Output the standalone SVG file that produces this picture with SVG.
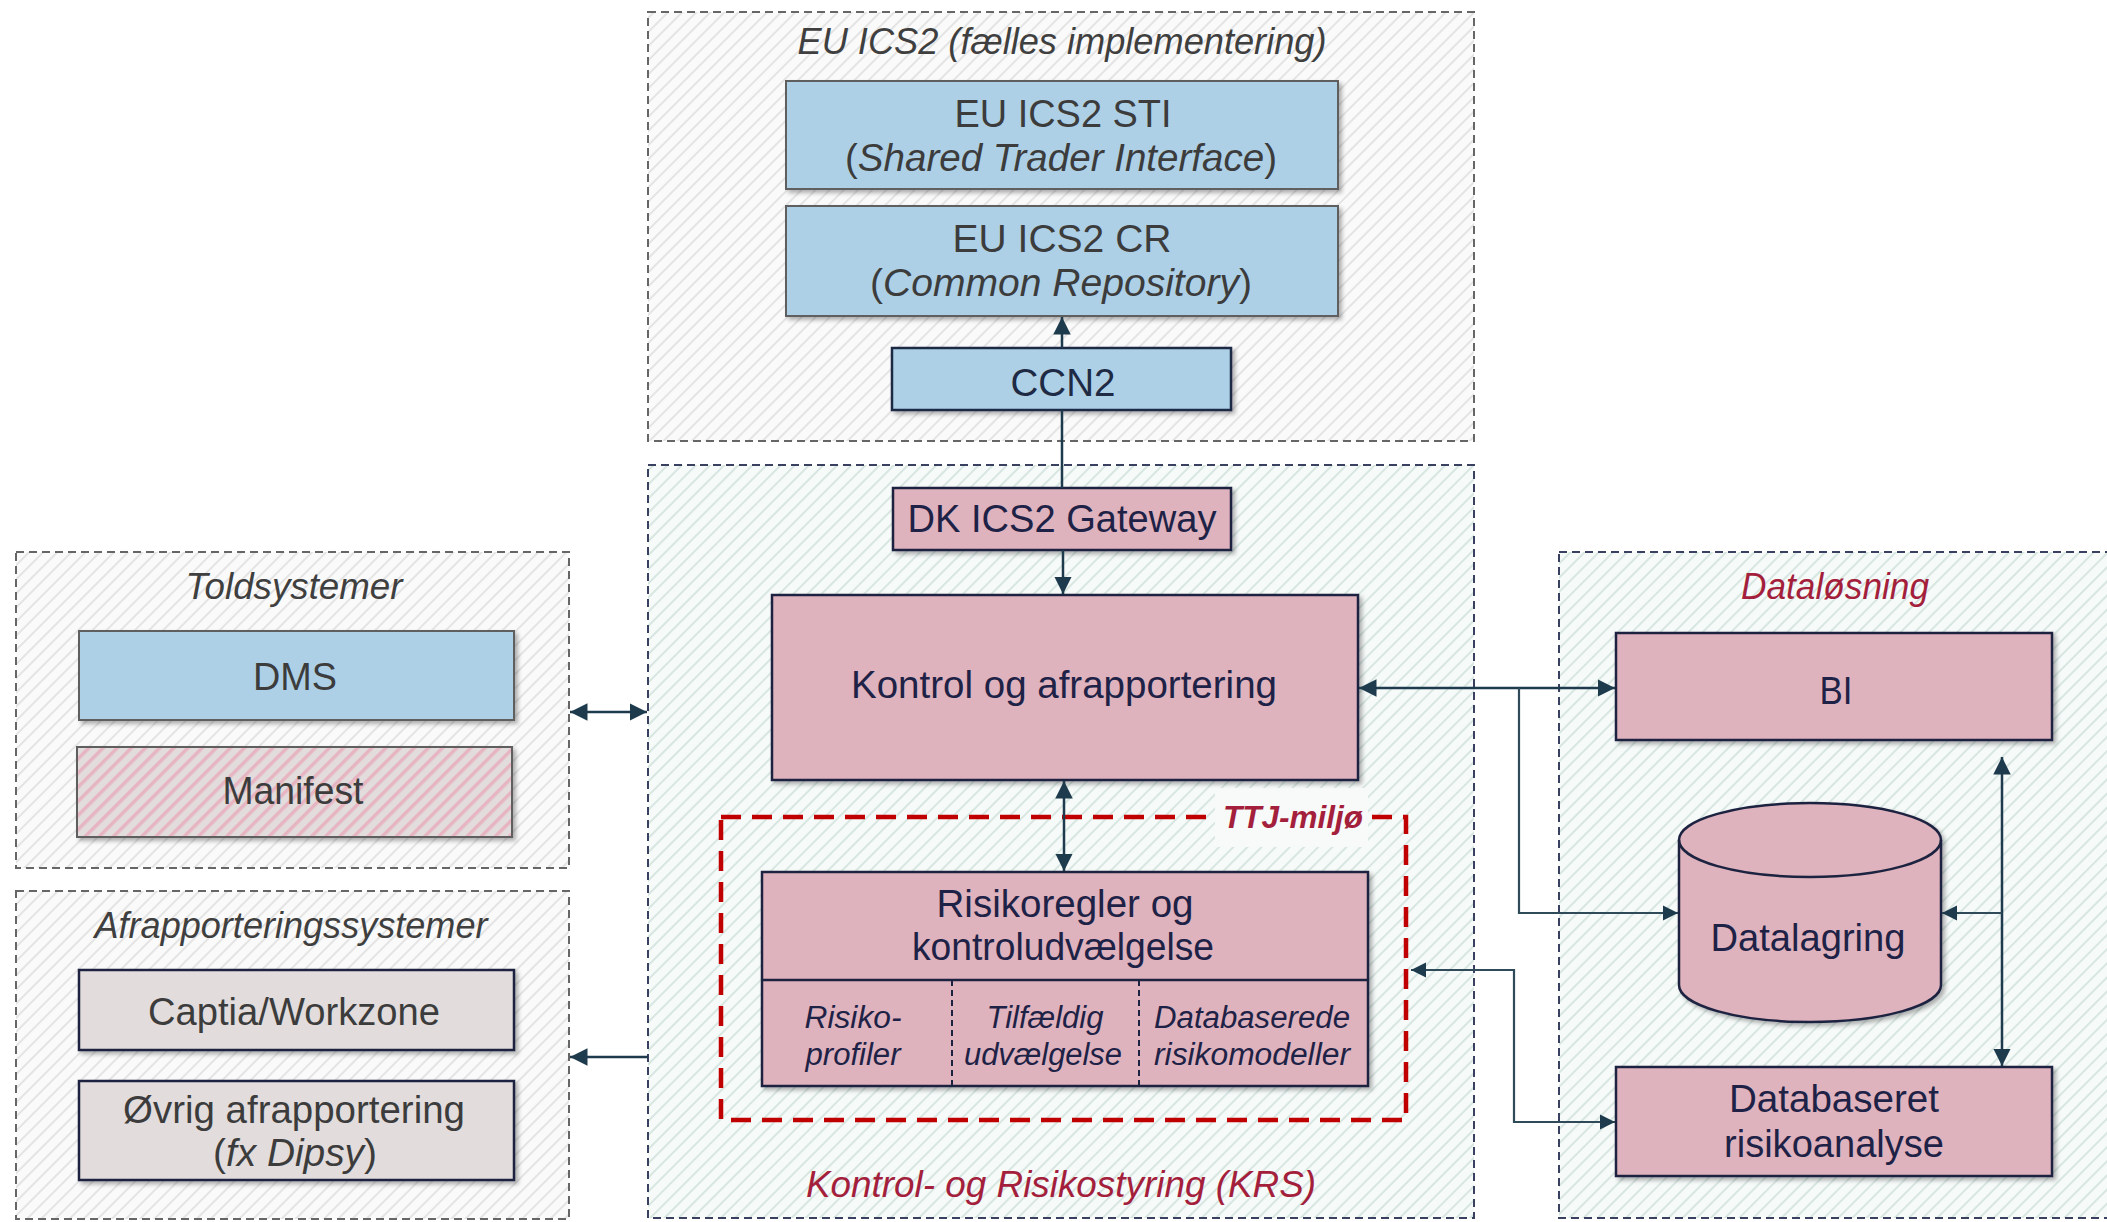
<svg xmlns="http://www.w3.org/2000/svg" width="2107" height="1222" viewBox="0 0 2107 1222">
<defs>
  <pattern id="hGray" width="10" height="10" patternUnits="userSpaceOnUse" patternTransform="rotate(45)">
    <rect width="10" height="10" fill="#fafafa"/>
    <line x1="1" y1="0" x2="1" y2="10" stroke="#e4e4e4" stroke-width="2"/>
  </pattern>
  <pattern id="hMint" width="10" height="10" patternUnits="userSpaceOnUse" patternTransform="rotate(45)">
    <rect width="10" height="10" fill="#f6faf9"/>
    <line x1="1" y1="0" x2="1" y2="10" stroke="#d8e6e2" stroke-width="2"/>
  </pattern>
  <pattern id="hPink" width="10" height="10" patternUnits="userSpaceOnUse" patternTransform="rotate(45)">
    <rect width="10" height="10" fill="#e2dcdc"/>
    <rect x="0" y="0" width="3.5" height="10" fill="#e7b5c1"/>
  </pattern>
  <filter id="sh" x="-5%" y="-5%" width="112%" height="120%">
    <feDropShadow dx="3" dy="3" stdDeviation="2" flood-color="#000" flood-opacity="0.3"/>
  </filter>
  <marker id="ah" viewBox="0 0 10 10" refX="10" refY="5" markerWidth="7" markerHeight="7" markerUnits="strokeWidth" orient="auto-start-reverse">
    <path d="M0,0 L10,5 L0,10 Z" fill="#1d3b4c"/>
  </marker>
  <style>
    .cont{stroke-width:2;stroke-dasharray:8 5}
    .gcont{fill:url(#hGray);stroke:#666}
    .mcont{fill:url(#hMint);stroke:#3a4060}
    .blue{fill:#add0e7;stroke:#5f5f5f;stroke-width:2;filter:url(#sh)}
    .pink{fill:#dfb3bd;stroke:#1c2340;stroke-width:2.5;filter:url(#sh)}
    .grey{fill:#e2dcdc;stroke:#1c2340;stroke-width:2.5;filter:url(#sh)}
    text{font-family:"Liberation Sans",Arial,sans-serif;text-anchor:middle}
    .t{font-size:38px;fill:#3c3c3c}
    .tn{font-size:38px;fill:#1e2246}
    .title{font-size:36px;font-style:italic;fill:#3f3f3f}
    .rtitle{font-size:36px;font-style:italic;fill:#a31f3c}
    .sm{font-size:31px;font-style:italic;fill:#1e2246}
    .i{font-style:italic}
    .con{fill:none;stroke:#1d3b4c;stroke-width:2.5}
    .con2{fill:none;stroke:#2f4a58;stroke-width:2.2}
  </style>
</defs>
<rect width="2107" height="1222" fill="#ffffff"/>

<g id="eu-ics2">
  <rect class="cont gcont" x="648" y="12" width="826" height="429"/>
  <text class="title" x="1062" y="54" textLength="529" lengthAdjust="spacingAndGlyphs">EU ICS2 (fælles implementering)</text>
</g>
<g id="krs">
  <rect class="cont mcont" x="648" y="465" width="826" height="753"/>
  <text class="rtitle" x="1061" y="1197" textLength="510" lengthAdjust="spacingAndGlyphs">Kontrol- og Risikostyring (KRS)</text>
</g>
<g id="toldsystemer">
  <rect class="cont gcont" x="16" y="552" width="553" height="316"/>
  <text class="title" x="294" y="599" textLength="217" lengthAdjust="spacingAndGlyphs">Toldsystemer</text>
</g>
<g id="afrapporteringssystemer">
  <rect class="cont gcont" x="16" y="891" width="553" height="328"/>
  <text class="title" x="291" y="938" textLength="393" lengthAdjust="spacingAndGlyphs">Afrapporteringssystemer</text>
</g>
<g id="dataloesning">
  <rect class="cont mcont" x="1559" y="552" width="600" height="666"/>
  <text class="rtitle" x="1835" y="599" textLength="188" lengthAdjust="spacingAndGlyphs">Dataløsning</text>
</g>

<g id="ttj">
  <rect x="721" y="817" width="685" height="303" fill="none" stroke="#c00000" stroke-width="4.5" stroke-dasharray="20 11"/>
  <rect x="1215" y="788" width="153" height="59" fill="#f8f9f9"/>
  <text x="1293" y="828" font-size="32" font-weight="bold" font-style="italic" fill="#a31f3c" textLength="140" lengthAdjust="spacingAndGlyphs">TTJ-miljø</text>
</g>

<g id="sti">
  <rect class="blue" x="786" y="81" width="552" height="108"/>
  <text class="t" x="1063" y="127" textLength="217" lengthAdjust="spacingAndGlyphs">EU ICS2 STI</text>
  <text class="t" x="1061" y="171" textLength="432" lengthAdjust="spacingAndGlyphs">(<tspan class="i">Shared Trader Interface</tspan>)</text>
</g>
<g id="cr">
  <rect class="blue" x="786" y="206" width="552" height="110"/>
  <text class="t" x="1062" y="252" textLength="219" lengthAdjust="spacingAndGlyphs">EU ICS2 CR</text>
  <text class="t" x="1061" y="296" textLength="382" lengthAdjust="spacingAndGlyphs">(<tspan class="i">Common Repository</tspan>)</text>
</g>
<g id="ccn2">
  <rect class="blue" x="892" y="348" width="339" height="62" style="stroke:#1f2a44;stroke-width:2.5"/>
  <text class="t" x="1063" y="396" textLength="105" lengthAdjust="spacingAndGlyphs" style="fill:#1f2a44">CCN2</text>
</g>
<g id="gateway">
  <rect class="pink" x="893" y="488" width="338" height="62"/>
  <text class="tn" x="1062" y="532" textLength="309" lengthAdjust="spacingAndGlyphs">DK ICS2 Gateway</text>
</g>
<g id="kontrol">
  <rect class="pink" x="772" y="595" width="586" height="185"/>
  <text class="tn" x="1064" y="698" textLength="426" lengthAdjust="spacingAndGlyphs">Kontrol og afrapportering</text>
</g>
<g id="risikoregler">
  <rect class="pink" x="762" y="872" width="606" height="214"/>
  <line x1="762" y1="980" x2="1368" y2="980" stroke="#1c2340" stroke-width="2.5"/>
  <line x1="952" y1="980" x2="952" y2="1086" stroke="#1c2340" stroke-width="2" stroke-dasharray="6 4"/>
  <line x1="1139" y1="980" x2="1139" y2="1086" stroke="#1c2340" stroke-width="2" stroke-dasharray="6 4"/>
  <text class="tn" x="1065" y="917" textLength="257" lengthAdjust="spacingAndGlyphs">Risikoregler og</text>
  <text class="tn" x="1063" y="960" textLength="302" lengthAdjust="spacingAndGlyphs">kontroludvælgelse</text>
  <text class="sm" x="853" y="1028" textLength="97" lengthAdjust="spacingAndGlyphs">Risiko-</text>
  <text class="sm" x="853" y="1065" textLength="95" lengthAdjust="spacingAndGlyphs">profiler</text>
  <text class="sm" x="1045" y="1028" textLength="117" lengthAdjust="spacingAndGlyphs">Tilfældig</text>
  <text class="sm" x="1043" y="1065" textLength="158" lengthAdjust="spacingAndGlyphs">udvælgelse</text>
  <text class="sm" x="1252" y="1028" textLength="196" lengthAdjust="spacingAndGlyphs">Databaserede</text>
  <text class="sm" x="1252" y="1065" textLength="196" lengthAdjust="spacingAndGlyphs">risikomodeller</text>
</g>
<g id="dms">
  <rect class="blue" x="79" y="631" width="435" height="89"/>
  <text class="t" x="295" y="690" textLength="84" lengthAdjust="spacingAndGlyphs">DMS</text>
</g>
<g id="manifest">
  <rect class="blue" x="77" y="747" width="435" height="90" style="fill:url(#hPink)"/>
  <text class="t" x="293" y="804" textLength="141" lengthAdjust="spacingAndGlyphs">Manifest</text>
</g>
<g id="captia">
  <rect class="grey" x="79" y="970" width="435" height="80"/>
  <text class="t" x="294" y="1025" textLength="292" lengthAdjust="spacingAndGlyphs">Captia/Workzone</text>
</g>
<g id="oevrig">
  <rect class="grey" x="79" y="1081" width="435" height="99"/>
  <text class="t" x="294" y="1123" textLength="342" lengthAdjust="spacingAndGlyphs">Øvrig afrapportering</text>
  <text class="t" x="295" y="1166" textLength="164" lengthAdjust="spacingAndGlyphs">(<tspan class="i">fx Dipsy</tspan>)</text>
</g>
<g id="bi">
  <rect class="pink" x="1616" y="633" width="436" height="107"/>
  <text class="tn" x="1836" y="704" textLength="33" lengthAdjust="spacingAndGlyphs">BI</text>
</g>
<g id="datalagring">
  <path d="M1679,840 A131,37 0 0 1 1941,840 L1941,985 A131,37 0 0 1 1679,985 Z" fill="#dfb3bd" stroke="#1c2340" stroke-width="2.5" filter="url(#sh)"/>
  <path d="M1679,840 A131,37 0 0 0 1941,840" fill="none" stroke="#1c2340" stroke-width="2.5"/>
  <text class="tn" x="1808" y="951" textLength="195" lengthAdjust="spacingAndGlyphs">Datalagring</text>
</g>
<g id="databaseret">
  <rect class="pink" x="1616" y="1067" width="436" height="109"/>
  <text class="tn" x="1834" y="1112" textLength="210" lengthAdjust="spacingAndGlyphs">Databaseret</text>
  <text class="tn" x="1834" y="1157" textLength="220" lengthAdjust="spacingAndGlyphs">risikoanalyse</text>
</g>

<g id="connectors">
  <path class="con" d="M1062,348 L1062,317" marker-end="url(#ah)"/>
  <path class="con" d="M1062,410 L1062,488"/>
  <path class="con" d="M1063,550 L1063,594" marker-end="url(#ah)"/>
  <path class="con" d="M1064,781 L1064,871" marker-start="url(#ah)" marker-end="url(#ah)"/>
  <path class="con" d="M570,712 L647,712" marker-start="url(#ah)" marker-end="url(#ah)"/>
  <path class="con" d="M648,1057 L570,1057" marker-end="url(#ah)"/>
  <path class="con" d="M1359,688 L1615,688" marker-start="url(#ah)" marker-end="url(#ah)"/>
  <path class="con2" d="M1519,688 L1519,913 L1678,913" marker-end="url(#ah)"/>
  <path class="con" d="M2002,757 L2002,1066" marker-start="url(#ah)" marker-end="url(#ah)"/>
  <path class="con2" d="M2002,913 L1942,913" marker-end="url(#ah)"/>
  <path class="con2" d="M1411,970 L1514,970 L1514,1122 L1615,1122" marker-start="url(#ah)" marker-end="url(#ah)"/>
</g>
</svg>
